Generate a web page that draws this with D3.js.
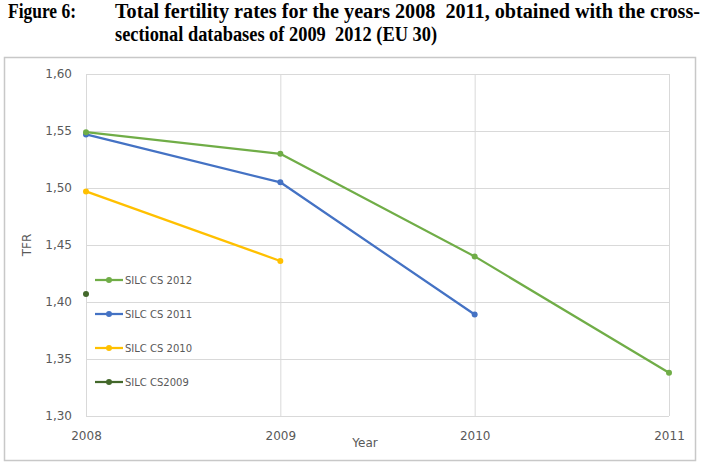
<!DOCTYPE html>
<html>
<head>
<meta charset="utf-8">
<script src="https://cdn.jsdelivr.net/npm/d3@7"></script>
<style>
  body { margin: 0; background: #fff; }
  svg { display: block; }
</style>
</head>
<body>
<svg id="chart" width="702" height="464"></svg>
<script>
// Data
const years = [2008, 2009, 2010, 2011];
const yTicks = [1.30, 1.35, 1.40, 1.45, 1.50, 1.55, 1.60];
const seriesNames = ['SILC CS 2012', 'SILC CS 2011', 'SILC CS 2010', 'SILC CS2009'];
const cs2012 = [1.549, 1.530, 1.440, 1.338];
const cs2011 = [1.547, 1.505, 1.389];
const cs2010 = [1.497, 1.436];
const cs2009 = [1.407];
const colors = ['#70ad47', '#4472c4', '#ffc000', '#43682b'];

const svg = d3.select('#chart');
const margin = { left: 86, right: 33, top: 74, bottom: 48 };
const width = 702, height = 464;

// Title (narrow heavy serif in the source, squeezed to width here)
const title = svg.append('g')
  .style('font-family', '"Liberation Serif", serif')
  .style('font-weight', 'bold')
  .style('font-size', '20px')
  .attr('fill', '#000');
title.append('text').attr('x', 8).attr('y', 18)
  .attr('textLength', 68).attr('lengthAdjust', 'spacingAndGlyphs')
  .text('Figure 6:');
title.append('text').attr('x', 115).attr('y', 18)
  .attr('textLength', 585).attr('lengthAdjust', 'spacingAndGlyphs')
  .text('Total fertility rates for the years 2008\u00a0 2011, obtained with the cross-');
title.append('text').attr('x', 115).attr('y', 41)
  .attr('textLength', 322).attr('lengthAdjust', 'spacingAndGlyphs')
  .text('sectional databases of 2009\u00a0 2012 (EU 30)');

// Chart frame
svg.append('rect')
  .attr('x', 4.5).attr('y', 57.5)
  .attr('width', 691).attr('height', 403)
  .attr('fill', '#fff')
  .attr('stroke', '#c8c8c8')
  .attr('stroke-width', 1.5);

const x = d3.scaleLinear().domain([2008, 2011]).range([margin.left, width - margin.right]);
const y = d3.scaleLinear().domain([1.30, 1.60]).range([height - margin.bottom, margin.top]);

// Gridlines
svg.append('g')
  .attr('transform', `translate(${margin.left},0)`)
  .call(d3.axisLeft(y).tickValues(yTicks).tickSize(-(x.range()[1] - x.range()[0])).tickFormat(''))
  .call(g => g.select('.domain').remove())
  .call(g => g.selectAll('line').attr('stroke', '#d9d9d9'));

svg.append('g')
  .attr('transform', `translate(0,${y(1.30)})`)
  .call(d3.axisBottom(x).tickValues(years).tickSize(-(y.range()[0] - y.range()[1])).tickFormat(''))
  .call(g => g.select('.domain').remove())
  .call(g => g.selectAll('line').attr('stroke', '#d9d9d9'));

// Tick labels
const fmt = d => d.toFixed(2).replace('.', ',');
svg.append('g')
  .attr('transform', `translate(${margin.left},0)`)
  .call(d3.axisLeft(y).tickValues(yTicks).tickSize(0).tickPadding(14).tickFormat(fmt))
  .call(g => g.select('.domain').remove())
  .call(g => g.selectAll('text')
    .attr('fill', '#595959')
    .style('font-family', '"DejaVu Sans", sans-serif')
    .style('font-size', '12px'));

svg.append('g')
  .attr('transform', `translate(0,${y(1.30)})`)
  .call(d3.axisBottom(x).tickValues(years).tickSize(0).tickPadding(15).tickFormat(d3.format('d')))
  .call(g => g.select('.domain').remove())
  .call(g => g.selectAll('text')
    .attr('fill', '#595959')
    .style('font-family', '"DejaVu Sans", sans-serif')
    .style('font-size', '12px'));

// Axis titles
svg.append('text')
  .attr('x', 365).attr('y', 447)
  .attr('text-anchor', 'middle')
  .attr('fill', '#595959')
  .style('font-family', '"DejaVu Sans", sans-serif')
  .style('font-size', '12px')
  .text('Year');

svg.append('text')
  .attr('transform', 'translate(31,245) rotate(-90)')
  .attr('text-anchor', 'middle')
  .attr('fill', '#595959')
  .style('font-family', '"DejaVu Sans", sans-serif')
  .style('font-size', '12px')
  .text('TFR');

// Series
const series = [cs2012, cs2011, cs2010, cs2009].map((vals, i) => ({
  name: seriesNames[i],
  color: colors[i],
  points: vals.map((v, j) => ({ year: years[j], value: v }))
}));

const line = d3.line().x(d => x(d.year)).y(d => y(d.value));

// Draw oldest first so newer series sit on top
const drawOrder = series.slice().reverse();
drawOrder.forEach(s => {
  svg.append('path')
    .datum(s.points)
    .attr('d', line)
    .attr('fill', 'none')
    .attr('stroke', s.color)
    .attr('stroke-width', 2.25)
    .attr('stroke-linejoin', 'round');
  svg.selectAll(null)
    .data(s.points)
    .enter()
    .append('circle')
    .attr('cx', d => x(d.year))
    .attr('cy', d => y(d.value))
    .attr('r', 3)
    .attr('fill', s.color);
});

// Legend
const legend = svg.append('g').attr('transform', 'translate(95,280)');
const rows = legend.selectAll('g')
  .data(series)
  .enter()
  .append('g')
  .attr('transform', (d, i) => `translate(0,${i * 34})`);
rows.append('line')
  .attr('x1', 0).attr('x2', 28)
  .attr('stroke', d => d.color)
  .attr('stroke-width', 2.25);
rows.append('circle')
  .attr('cx', 14).attr('r', 3)
  .attr('fill', d => d.color);
rows.append('text')
  .attr('x', 30).attr('y', 4)
  .attr('fill', '#595959')
  .style('font-family', '"DejaVu Sans", sans-serif')
  .style('font-size', '10px')
  .text(d => d.name);
</script>
</body>
</html>
